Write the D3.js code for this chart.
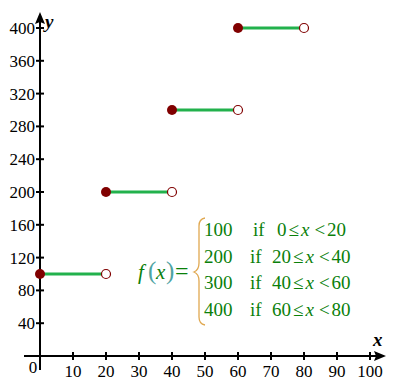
<!DOCTYPE html>
<html>
<head>
<meta charset="utf-8">
<script src="https://cdn.jsdelivr.net/npm/d3@7"></script>
<style>
  body { margin: 0; background: #fff; }
</style>
</head>
<body>
<div id="chart"></div>
<script>
// step function pieces
var starts = [0, 20, 40, 60];
var ends = [20, 40, 60, 80];
var values = [100, 200, 300, 400];

var xTicks = [10, 20, 30, 40, 50, 60, 70, 80, 90, 100];
var yTicks = [40, 80, 120, 160, 200, 240, 280, 320, 360, 400];

var formulaRows = [
  ["100", "if", "0", "20"],
  ["200", "if", "20", "40"],
  ["300", "if", "40", "60"],
  ["400", "if", "60", "80"]
];

var svgWidth = 393, svgHeight = 392;

var svg = d3.select("#chart")
  .append("svg")
  .attr("width", svgWidth)
  .attr("height", svgHeight)
  .attr("font-family", "'Liberation Serif', 'Times New Roman', 'DejaVu Serif', serif");

var x = d3.scaleLinear().domain([0, 100]).range([40, 370]);
var y = d3.scaleLinear().domain([0, 400]).range([356, 28]);

var ink = "#000";

// axes lines
svg.append("line")
  .attr("x1", 24).attr("x2", 378)
  .attr("y1", y(0)).attr("y2", y(0))
  .attr("stroke", ink).attr("stroke-width", 2);
svg.append("path")
  .attr("d", `M386,${y(0)} L374,${y(0) - 5} L376,${y(0)} L374,${y(0) + 5} Z`)
  .attr("fill", ink);

svg.append("line")
  .attr("x1", x(0)).attr("x2", x(0))
  .attr("y1", 370).attr("y2", 20)
  .attr("stroke", ink).attr("stroke-width", 2);
svg.append("path")
  .attr("d", `M${x(0)},12 L${x(0) - 5},24 L${x(0)},22 L${x(0) + 5},24 Z`)
  .attr("fill", ink);

// x ticks + labels
svg.append("g").selectAll("line")
  .data(xTicks)
  .enter().append("line")
  .attr("x1", d => x(d)).attr("x2", d => x(d))
  .attr("y1", y(0) - 4).attr("y2", y(0) + 4)
  .attr("stroke", ink).attr("stroke-width", 2);

svg.append("g").selectAll("text")
  .data(xTicks)
  .enter().append("text")
  .attr("x", d => x(d))
  .attr("y", 377)
  .attr("text-anchor", "middle")
  .attr("font-size", 17)
  .text(d => d);

svg.append("text")
  .attr("x", 33).attr("y", 373)
  .attr("text-anchor", "middle")
  .attr("font-size", 17)
  .text("0");

// y ticks + labels
svg.append("g").selectAll("line")
  .data(yTicks)
  .enter().append("line")
  .attr("x1", x(0) - 4).attr("x2", x(0) + 4)
  .attr("y1", d => y(d)).attr("y2", d => y(d))
  .attr("stroke", ink).attr("stroke-width", 2);

svg.append("g").selectAll("text")
  .data(yTicks)
  .enter().append("text")
  .attr("x", 35)
  .attr("y", d => y(d))
  .attr("dy", "0.35em")
  .attr("text-anchor", "end")
  .attr("font-size", 17)
  .text(d => d);

// axis names
svg.append("text")
  .attr("x", 45).attr("y", 28)
  .attr("font-size", 19).attr("font-style", "italic").attr("font-weight", "bold")
  .text("y");
svg.append("text")
  .attr("x", 373).attr("y", 346)
  .attr("font-size", 19).attr("font-style", "italic").attr("font-weight", "bold")
  .text("x");

// step segments
var steps = values.map((v, i) => ({ x0: starts[i], x1: ends[i], v: v }));

svg.append("g").selectAll("line")
  .data(steps)
  .enter().append("line")
  .attr("x1", d => x(d.x0)).attr("x2", d => x(d.x1))
  .attr("y1", d => y(d.v)).attr("y2", d => y(d.v))
  .attr("stroke", "#22b14c").attr("stroke-width", 3);

svg.append("g").selectAll("circle")
  .data(steps)
  .enter().append("circle")
  .attr("cx", d => x(d.x1)).attr("cy", d => y(d.v))
  .attr("r", 4.5)
  .attr("fill", "#fff").attr("stroke", "#800000").attr("stroke-width", 1.2);

svg.append("g").selectAll("circle")
  .data(steps)
  .enter().append("circle")
  .attr("cx", d => x(d.x0)).attr("cy", d => y(d.v))
  .attr("r", 5)
  .attr("fill", "#800000");

// formula
var green = "#0a800a";
var paren = "#4fa3a3";
var fx = svg.append("text")
  .attr("y", 279)
  .attr("font-size", 21)
  .attr("fill", green);
fx.append("tspan").attr("x", 138).attr("font-style", "italic").text("f");
fx.append("tspan").attr("x", 148).attr("font-size", 25).attr("fill", paren).text("(");
fx.append("tspan").attr("x", 156).attr("font-style", "italic").text("x");
fx.append("tspan").attr("x", 166).attr("font-size", 25).attr("fill", paren).text(")");
fx.append("tspan").attr("x", 175).attr("font-size", 24).text("=");

// brace
svg.append("path")
  .attr("d", "M205,218 Q199,219 199,226 L199,263 Q199,270 194,272 Q199,274 199,281 L199,317 Q199,324 205,325")
  .attr("fill", "none").attr("stroke", "#e0a850").attr("stroke-width", 1.3);

var rowY = [236, 263, 289, 316];
var rows = svg.append("g").selectAll("text")
  .data(formulaRows)
  .enter().append("text")
  .attr("x", 204)
  .attr("y", (d, i) => rowY[i])
  .attr("font-size", 19)
  .attr("fill", green);

rows.append("tspan").text(d => d[0]);
rows.append("tspan").attr("x", (d, i) => i === 0 ? 253 : 250).text(d => d[1]);
rows.append("tspan").attr("x", (d, i) => i === 0 ? 277 : 272).text(d => d[2]);
rows.append("tspan").attr("dx", 2).text("\u2264");
rows.append("tspan").attr("dx", 2).attr("font-style", "italic").text("x");
rows.append("tspan").attr("dx", 5).text("<");
rows.append("tspan").attr("dx", 2).text(d => d[3]);
</script>
</body>
</html>
